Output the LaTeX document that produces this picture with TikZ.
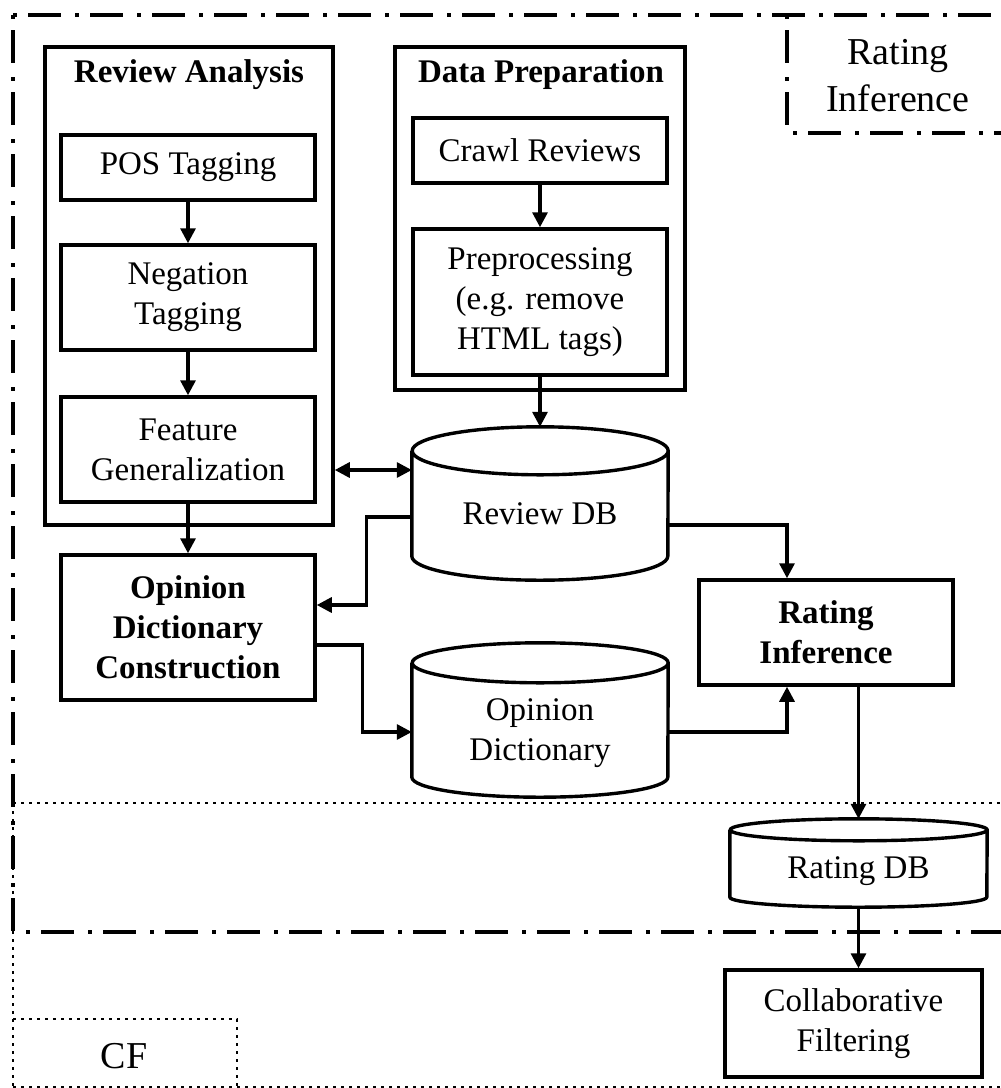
\documentclass[tikz,border=0pt]{standalone}
\usepackage{fontspec}
\setmainfont{Liberation Serif}
\usetikzlibrary{arrows.meta,calc}
\begin{document}
\begin{tikzpicture}[x=1pt,y=-1pt,
  every node/.style={font=\fontsize{33}{40}\selectfont, inner sep=0pt, align=center},
  box/.style={draw, line width=3.5pt, rectangle},
  boldbox/.style={box, font=\fontsize{33}{40}\selectfont\bfseries},
  group/.style={draw, line width=3.5pt, rectangle},
  title/.style={font=\fontsize{33}{40}\selectfont\bfseries, anchor=base},
  cylnode/.style={rectangle},
  cyl/.style={line width=3.4pt, line join=round},
  arr/.style={line width=3.2pt, -{Triangle[length=15pt,width=15pt]}},
  dbl/.style={line width=3.2pt, {Triangle[length=15pt,width=15pt]}-{Triangle[length=15pt,width=15pt]}},
  dashdot/.style={line width=3.5pt, dash pattern=on 4pt off 11pt on 33pt off 14pt},
  dotline/.style={line width=2.5pt, dash pattern=on 2.5pt off 5.5pt},
  region/.style={font=\fontsize{38}{47}\selectfont},
]
\useasboundingbox (0,0) rectangle (1001,1088);
\clip (0,0) rectangle (1001,1088);

% region frames
\draw[dashdot] (13,15) -- (1030,15);
\draw[dashdot] (13,15) -- (13,932) -- (1030,932);
\draw[dashdot] (787,15) -- (787,133) -- (1030,133);
\draw[dotline] (13,803) -- (1030,803);
\draw[dotline] (13,803) -- (13,1088);
\draw[dotline] (13,1087) -- (1030,1087);
\draw[dotline] (13,1019) -- (237,1019) -- (237,1088);
\node[region] (rilabel) at (898,75.5) {Rating\\Inference};
\node[region] (cflabel) at (124,1056.5) {CF};

% group boxes
\node[group, minimum width=288, minimum height=478] (ra) at (189,286) {};
\node[group, minimum width=290, minimum height=343] (dp) at (540,218.5) {};
\node[title] (ratitle) at (189,82) {Review Analysis};
\node[title] (dptitle) at (541,82) {Data Preparation};

% process boxes
\node[box, minimum width=254, minimum height=65] (pos) at (188,167.5) {POS Tagging};
\node[box, minimum width=254, minimum height=105] (neg) at (188,297.5) {Negation\\Tagging};
\node[box, minimum width=254, minimum height=105] (feat) at (188,449.5) {Feature\\Generalization};
\node[boldbox, minimum width=254, minimum height=145] (odc) at (188,627.5) {Opinion\\Dictionary\\Construction};
\node[box, minimum width=254, minimum height=65] (crawl) at (540,150.5) {Crawl Reviews};
\node[box, minimum width=254, minimum height=146] (pre) at (540,302) {Preprocessing\\(e.g. remove\\HTML tags)};
\node[boldbox, minimum width=254, minimum height=105] (ri) at (826,632.5) {Rating\\Inference};
\node[box, minimum width=257, minimum height=107] (cf) at (853.5,1023.5) {Collaborative\\Filtering};

% cylinders
\node[cylnode, minimum width=256, minimum height=153] (rdb) at (540,503.5) {};
\node[cylnode, minimum width=256, minimum height=154] (od) at (540,720) {};
\node[cylnode, minimum width=257, minimum height=88] (ratdb) at (858.5,863) {};
\draw[cyl] ([yshift=-24]rdb.north west) -- ([yshift=24]rdb.south west)
  arc[start angle=180,end angle=360,x radius=128pt,y radius=24pt]
  -- ([yshift=-24]rdb.north east)
  arc[start angle=0,end angle=360,x radius=128pt,y radius=24pt];
\draw[cyl] ([yshift=-20]od.north west) -- ([yshift=20]od.south west)
  arc[start angle=180,end angle=360,x radius=128pt,y radius=20pt]
  -- ([yshift=-20]od.north east)
  arc[start angle=0,end angle=360,x radius=128pt,y radius=20pt];
\draw[cyl] ([yshift=-11]ratdb.north west) -- ([yshift=10]ratdb.south west)
  arc[start angle=180,end angle=360,x radius=128.5pt,y radius=10pt]
  -- ([yshift=-11]ratdb.north east)
  arc[start angle=0,end angle=360,x radius=128.5pt,y radius=11pt];
\node (rdbtext) at ([yshift=-10.5]rdb.center) {Review DB};
\node (odtext) at ([yshift=-13]od.center) {Opinion\\Dictionary};
\node (ratdbtext) at ([yshift=-8.5]ratdb.center) {Rating DB};

% connectors
\draw[arr] (pos.south) -- (neg.north);
\draw[arr] (neg.south) -- (feat.north);
\draw[arr] (feat.south) -- (odc.north);
\draw[arr] (crawl.south) -- (pre.north);
\draw[arr] (pre.south) -- (rdb.north);
\coordinate (dblR) at ([yshift=33.5]rdb.west);
\draw[dbl] (dblR -| ra.east) -- (dblR);
\coordinate (r1) at ([yshift=-13.5]rdb.west);
\coordinate (o1) at ([yshift=22.5]odc.east);
\draw[arr] (r1) -- ++(-45,0) |- (o1);
\coordinate (o2) at ([yshift=-17.5]odc.east);
\coordinate (d1) at ([yshift=-12]od.west);
\draw[arr] (o2) -- ++(46,0) |- (d1);
\coordinate (r2) at ([yshift=-21.5]rdb.east);
\coordinate (i1) at ([xshift=-39]ri.north);
\draw[arr] (r2) -| (i1);
\coordinate (d2) at ([yshift=-12]od.east);
\coordinate (i2) at ([xshift=-39]ri.south);
\draw[arr] (d2) -| (i2);
\draw[arr] (ri.south -| ratdb.north) -- (ratdb.north);
\draw[arr] (ratdb.south) -- (ratdb.south |- cf.north);
\end{tikzpicture}
\end{document}
